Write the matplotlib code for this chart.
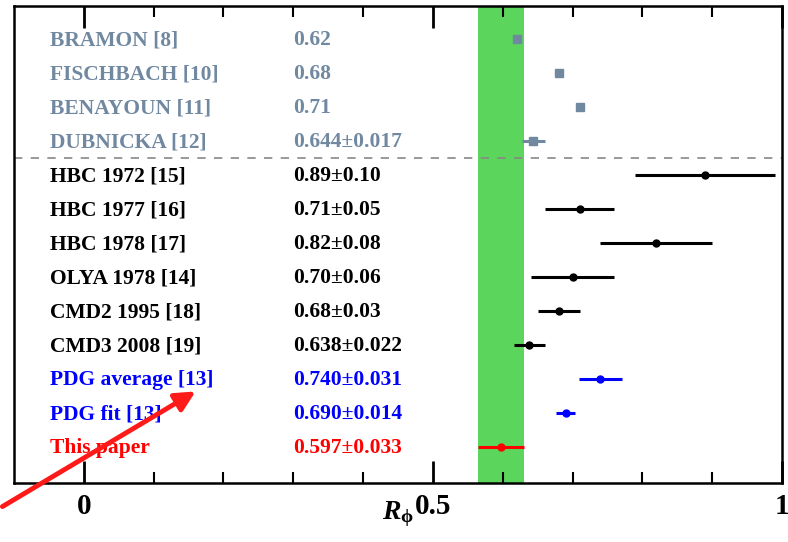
import matplotlib
matplotlib.use("Agg")
import matplotlib.pyplot as plt
from matplotlib.ticker import FixedLocator

plt.rcParams['font.family'] = ['Liberation Serif', 'DejaVu Serif']
plt.rcParams['mathtext.fontset'] = 'custom'
plt.rcParams['mathtext.it'] = 'Liberation Serif:italic:bold'
plt.rcParams['mathtext.rm'] = 'Liberation Serif:bold'

names = ['BRAMON [8]', 'FISCHBACH [10]', 'BENAYOUN [11]', 'DUBNICKA [12]',
         'HBC 1972 [15]', 'HBC 1977 [16]', 'HBC 1978 [17]', 'OLYA 1978 [14]',
         'CMD2 1995 [18]', 'CMD3 2008 [19]', 'PDG average [13]', 'PDG fit [13]',
         'This paper']
values = [0.62, 0.68, 0.71, 0.644, 0.89, 0.71, 0.82, 0.70, 0.68, 0.638, 0.740, 0.690, 0.597]
errors = [0.0, 0.0, 0.0, 0.017, 0.10, 0.05, 0.08, 0.06, 0.03, 0.022, 0.031, 0.014, 0.033]
value_labels = ['0.62', '0.68', '0.71', '0.644±0.017', '0.89±0.10', '0.71±0.05',
                '0.82±0.08', '0.70±0.06', '0.68±0.03', '0.638±0.022', '0.740±0.031',
                '0.690±0.014', '0.597±0.033']
groups = ['model'] * 4 + ['exp'] * 6 + ['pdg'] * 2 + ['this']

band_center = 0.597
band_half = 0.033

colors = {'model': '#7088a0', 'exp': '#000000', 'pdg': '#0000ff', 'this': '#ff0000'}
markers = {'model': 's', 'exp': 'o', 'pdg': 'o', 'this': 'o'}

fig = plt.figure(figsize=(7.88, 5.42), dpi=100)
ax = fig.add_axes([14/788, 1-483/542, (782-14)/788, (483-6)/542])

n = len(names)
ax.axvspan(band_center - band_half, band_center + band_half, color='#5bd55b', zorder=0, lw=0)

for i, (nm, v, e, vl, g) in enumerate(zip(names, values, errors, value_labels, groups)):
    y = n - 1 - i
    c = colors[g]
    ax.errorbar(v, y, xerr=e if e > 0 else None, fmt=markers[g], color=c,
                ms=5.5 if g == 'model' else 5, elinewidth=2.2, capsize=0, zorder=3)
    ax.text(-0.049, y - 0.18, nm, color=c, fontsize=15.5, fontweight='bold',
            ha='left', va='baseline')
    ax.text(0.30, y - 0.18, vl, color=c, fontsize=15.5, fontweight='bold',
            ha='left', va='baseline')

ax.axhline(8.5, color='#888888', lw=1.2, ls=(0, (5, 5)), zorder=1)

ax.set_xlim(-0.1, 1.0)
ax.set_ylim(-1.06, 12.97)
ax.set_yticks([])
ax.xaxis.set_major_locator(FixedLocator([0, 0.5, 1.0]))
ax.xaxis.set_minor_locator(FixedLocator([0.1, 0.2, 0.3, 0.4, 0.6, 0.7, 0.8, 0.9]))
ax.set_xticklabels(['0', '0.5', '1'], fontsize=21, fontweight='bold')
ax.tick_params(axis='x', which='major', direction='in', length=16, width=2, top=True, pad=7)
ax.tick_params(axis='x', which='minor', direction='in', length=8, width=1.5, top=True)
for s in ax.spines.values():
    s.set_linewidth(1.8)

fig.text(398/788, 1-519/542, r'$R_{\mathrm{\phi}}$', fontsize=20, ha='center', va='baseline')

ax.annotate('', xy=(198/788, 1-390/542), xytext=(0, 1-508/542),
            xycoords='figure fraction', textcoords='figure fraction',
            arrowprops=dict(arrowstyle='-|>', lw=3.5, color='#ff1a1a', mutation_scale=30),
            annotation_clip=False)

fig.savefig('out.png', dpi=100)
